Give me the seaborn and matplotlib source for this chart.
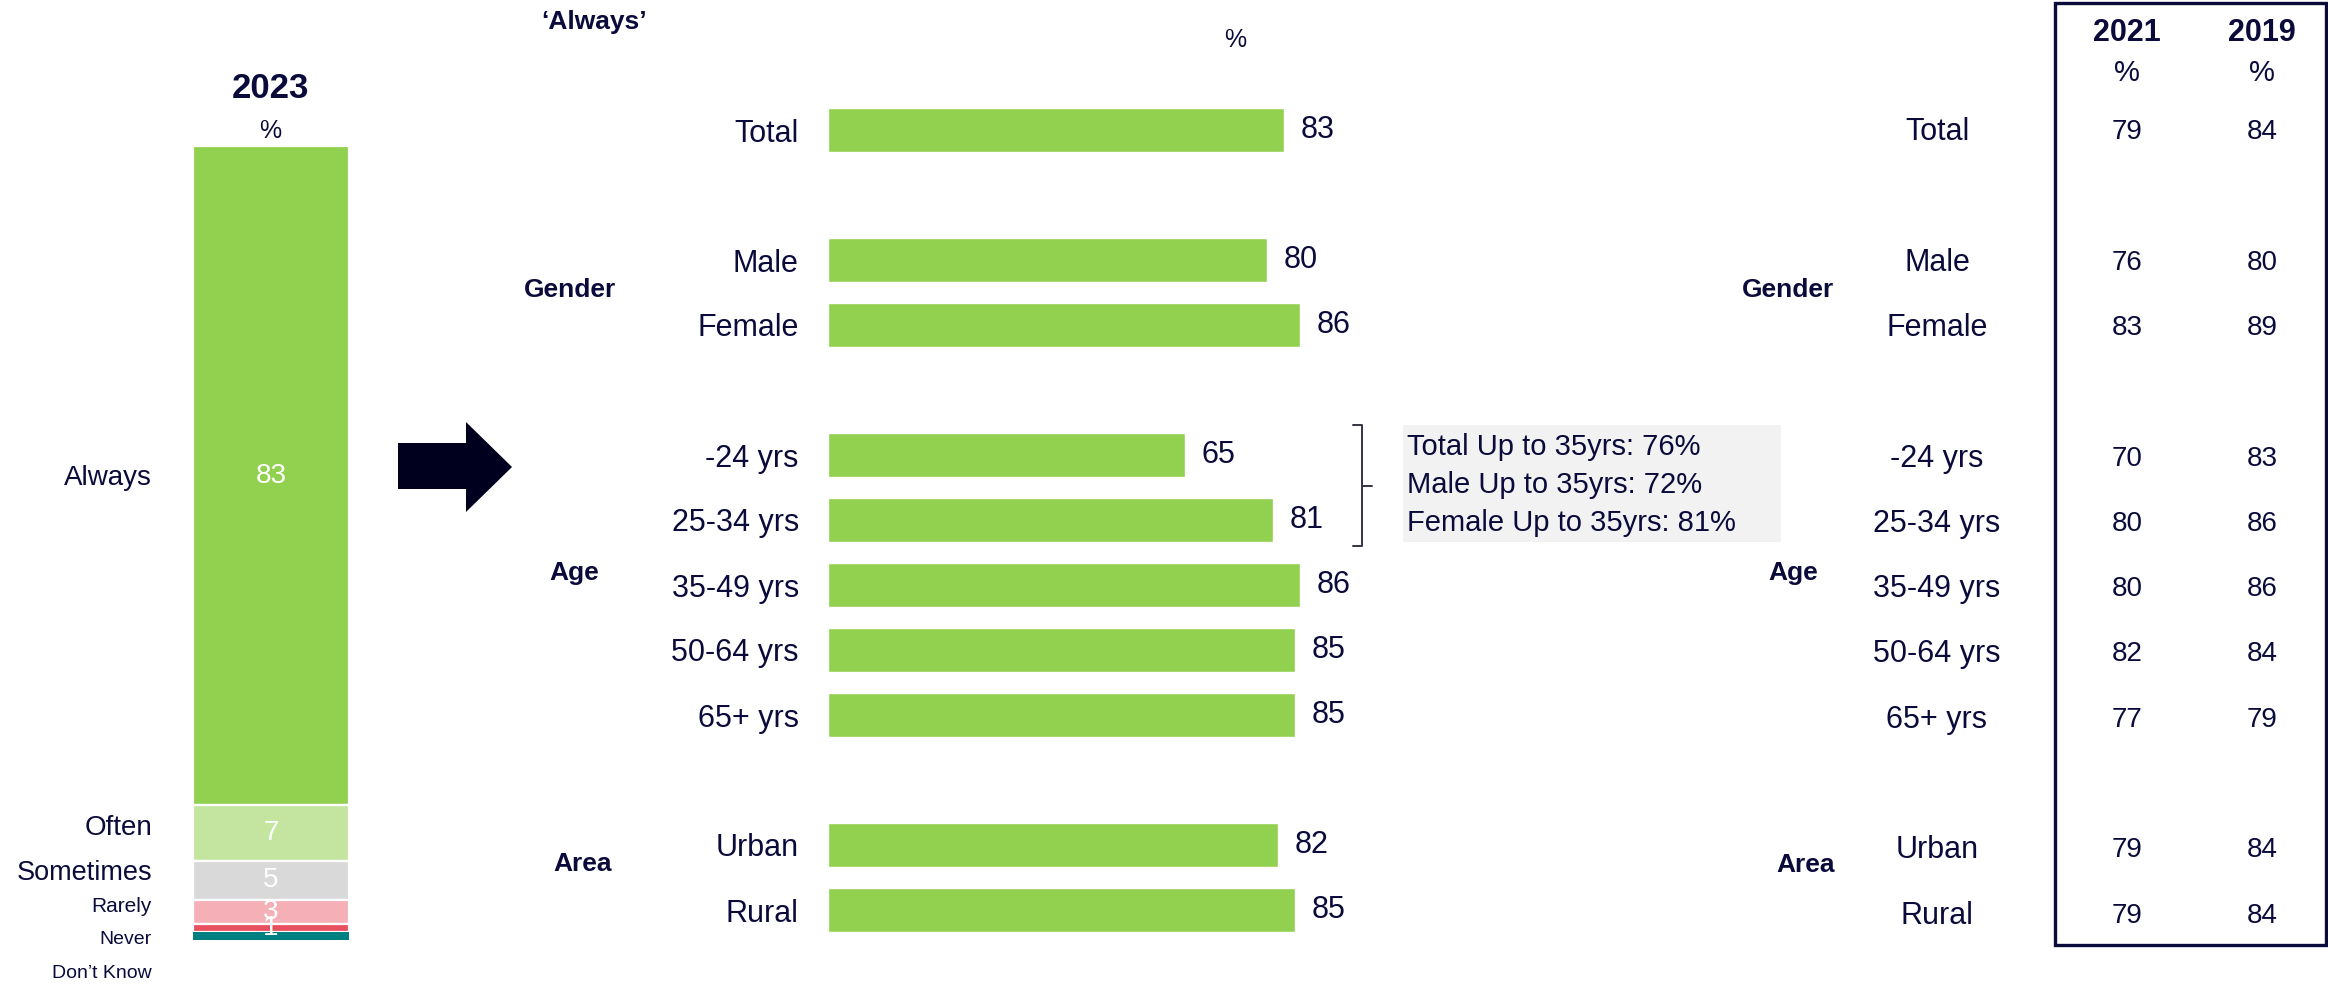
import numpy as np
import pandas as pd
import matplotlib
matplotlib.use("Agg")
import matplotlib.pyplot as plt
from matplotlib.patches import Rectangle, Polygon
import seaborn as sns

# ---- data -------------------------------------------------------------
responses = ["Always", "Often", "Sometimes", "Rarely", "Never", "Don\u2019t Know"]
shares_2023 = [83, 7, 5, 3, 1, 1]

groups = ["Total", "Male", "Female", "-24 yrs", "25-34 yrs", "35-49 yrs",
          "50-64 yrs", "65+ yrs", "Urban", "Rural"]
always_2023 = [83, 80, 86, 65, 81, 86, 85, 85, 82, 85]
always_2021 = [79, 76, 83, 70, 80, 80, 82, 77, 79, 79]
always_2019 = [84, 80, 89, 83, 86, 86, 84, 79, 84, 84]

group_headers = ["Gender", "Age", "Area"]
under35_notes = ["Total Up to 35yrs: 76%", "Male Up to 35yrs: 72%",
                 "Female Up to 35yrs: 81%"]

# ---- styling / layout -------------------------------------------------
W, H = 2328, 985
NAVY = "#0b0b3b"
GREEN = "#92D050"
seg_colors = ["#92D050", "#C4E5A0", "#D9D9D9", "#F4B0B6", "#E8505F", "#008080"]

sns.set_theme(style="white")
plt.rcParams["font.family"] = ["Liberation Sans", "DejaVu Sans"]
plt.rcParams["text.color"] = NAVY

fig = plt.figure(figsize=(W / 100, H / 100), dpi=100)


def box(x0, y0, x1, y1):
    return [x0 / W, 1 - y1 / H, (x1 - x0) / W, (y1 - y0) / H]


# row slots leave blank gaps between groups
row_slots = [0, 2, 3, 5, 6, 7, 8, 9, 11, 12]
ROW0, ROWSTEP = 130, 65

# ---- left: 2023 stacked column ----------------------------------------
axl = fig.add_axes(box(193, 146, 349, 940))
bottom = 0
for i, (name, v) in enumerate(zip(responses, shares_2023)):
    last = i == len(responses) - 1
    axl.bar(0, v, bottom=bottom, width=1.0 if not last else 1.01,
            color=seg_colors[i], edgecolor="white" if not last else seg_colors[i],
            linewidth=1.6 if not last else 0)
    if not last:
        axl.text(0, bottom + v / 2, f"{v}", color="white", ha="center",
                 va="center", fontsize=20)
    bottom += v
axl.set_xlim(-0.5, 0.5)
axl.set_ylim(100, 0)
axl.axis("off")

# ---- middle: 'Always' by subgroup -------------------------------------
slot_names = [f"_slot{k}" for k in range(13)]
for g, s in zip(groups, row_slots):
    slot_names[s] = g
df = pd.DataFrame({"group": groups, "always": always_2023})

top_px = ROW0 - ROWSTEP / 2
bot_px = ROW0 + 12 * ROWSTEP + ROWSTEP / 2
axm = fig.add_axes(box(828, top_px, 828 + 549, bot_px))
sns.barplot(data=df, x="always", y="group", order=slot_names, orient="h",
            color=GREEN, saturation=1, width=0.68, ax=axm, errorbar=None)
for c in axm.containers:
    axm.bar_label(c, fmt="%.0f", padding=12, fontsize=22, color=NAVY)
axm.set_xlim(0, 100)
axm.set_ylim(12.5, -0.5)
axm.set_yticks(row_slots)
axm.set_yticklabels(groups, fontsize=22, color=NAVY)
axm.tick_params(axis="y", length=0, pad=21)
axm.set_xticks([])
axm.set_xlabel("")
axm.set_ylabel("")
sns.despine(ax=axm, left=True, bottom=True)

# ---- overlay for annotations, table and shapes -------------------------
ov = fig.add_axes([0, 0, 1, 1], zorder=10)
ov.set_xlim(0, W)
ov.set_ylim(H, 0)
ov.axis("off")
ov.patch.set_alpha(0)

# left column headings and response labels
ov.text(270, 88, "2023", ha="center", va="center", fontsize=25,
        fontweight="bold")
ov.text(270, 131, "%", ha="center", va="center", fontsize=18)
resp_y = [478, 828, 873, 906, 940, 973]
resp_fs = [20, 20, 19.5, 15, 14, 14]
for name, y, fs in zip(responses, resp_y, resp_fs):
    ov.text(152, y, name, ha="right", va="center", fontsize=fs)

# arrow
ov.add_patch(Polygon([(398, 443), (466, 443), (466, 422), (512, 467),
                      (466, 512), (466, 489), (398, 489)],
                     closed=True, color="#00001e", lw=0))

# middle titles and group headers
ov.text(594, 22, "\u2018Always\u2019", ha="center", va="center",
        fontsize=19, fontweight="bold")
ov.text(1235, 40, "%", ha="center", va="center", fontsize=18)
for name, (x, y) in zip(group_headers, [(570, 290), (574, 573), (583, 864)]):
    ov.text(x, y, name, ha="center", va="center", fontsize=19,
            fontweight="bold")

# bracket + under-35 note
ov.plot([1353, 1362, 1362, 1372], [425, 425, 486, 486], color="#333344", lw=1.4)
ov.plot([1353, 1362, 1362], [546, 546, 486], color="#333344", lw=1.4)
ov.add_patch(Rectangle((1403, 425), 378, 117, color="#f2f2f2", lw=0))
for line, y in zip(under35_notes, [447, 485, 523]):
    ov.text(1407, y, line, ha="left", va="center", fontsize=21)

# right comparison table
for name, (x, y) in zip(group_headers, [(1788, 290), (1793, 573), (1806, 865)]):
    ov.text(x, y, name, ha="center", va="center", fontsize=19,
            fontweight="bold")
for g, s, v21, v19 in zip(groups, row_slots, always_2021, always_2019):
    y = 132 + s * 65.3
    ov.text(1937, y, g, ha="center", va="center", fontsize=22)
    ov.text(2127, y, f"{v21}", ha="center", va="center", fontsize=20)
    ov.text(2262, y, f"{v19}", ha="center", va="center", fontsize=20)
for yr, x in zip(["2021", "2019"], [2127, 2262]):
    ov.text(x, 33, yr, ha="center", va="center", fontsize=22,
            fontweight="bold")
    ov.text(x, 73, "%", ha="center", va="center", fontsize=21)
ov.add_patch(Rectangle((2055, 3), 271, 942, fill=False, edgecolor=NAVY,
                       lw=2.4))

fig.savefig("out.png", dpi=100, facecolor="white")
